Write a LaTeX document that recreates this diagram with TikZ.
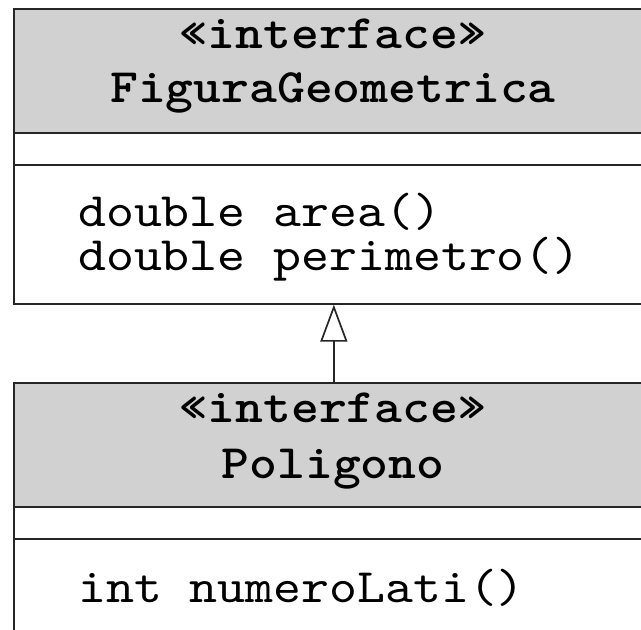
\documentclass[tikz,border=0pt]{standalone}
\usepackage{fontspec}
\newfontfamily\umlreg[FakeStretch=1.108]{lmmono10-regular.otf}
\newfontfamily\umlbold[FakeStretch=1.105]{lmmonolt10-bold.otf}
\usetikzlibrary{arrows.meta}
\begin{document}
\begin{tikzpicture}[x=1pt,y=-1pt,
  compart/.style={draw=black!85, line width=1.7pt, anchor=north west,
    inner sep=0pt, minimum width=640pt},
  head/.style={compart, fill=black!18},
  btxt/.style={font=\umlbold\fontsize{48}{54}\selectfont, anchor=base, inner sep=0pt},
  mtxt/.style={font=\umlreg\fontsize{48}{44}\selectfont, align=left,
    anchor=base west, inner sep=0pt}]
\useasboundingbox (0,0) rectangle (641,630);
\clip (0,0) rectangle (641,630);
\fill[white] (0,0) rectangle (641,630);

% FiguraGeometrica
\node[head, minimum height=124pt] (figH) at (13,8) {};
\node[compart, minimum height=32pt] (figA) at (13,132) {};
\node[compart, minimum height=139pt] (figM) at (13,164) {};
\node[btxt] (figS) at (333,48) {«interface»};
\node[btxt] (figN) at (333,102) {FiguraGeometrica};
% base anchor sits on the last line of a multi-line node
\node[mtxt] (figOps) at (78,270) {double area()\\double perimetro()};

% Poligono
\node[head, minimum height=124pt] (polH) at (13,382) {};
\node[compart, minimum height=32pt] (polA) at (13,506) {};
\node[compart, minimum height=130pt] (polM) at (13,538) {};
\node[btxt] (polS) at (333,422) {«interface»};
\node[btxt] (polN) at (333,478) {Poligono};
\node[mtxt] (polOps) at (78,602) {int numeroLati()};

% generalization
\draw[line width=1.7pt, draw=black!85,
  -{Triangle[open, length=37pt, width=27pt, line width=1.7pt]}]
  (polH.north) -- (figM.south);
\end{tikzpicture}
\end{document}
